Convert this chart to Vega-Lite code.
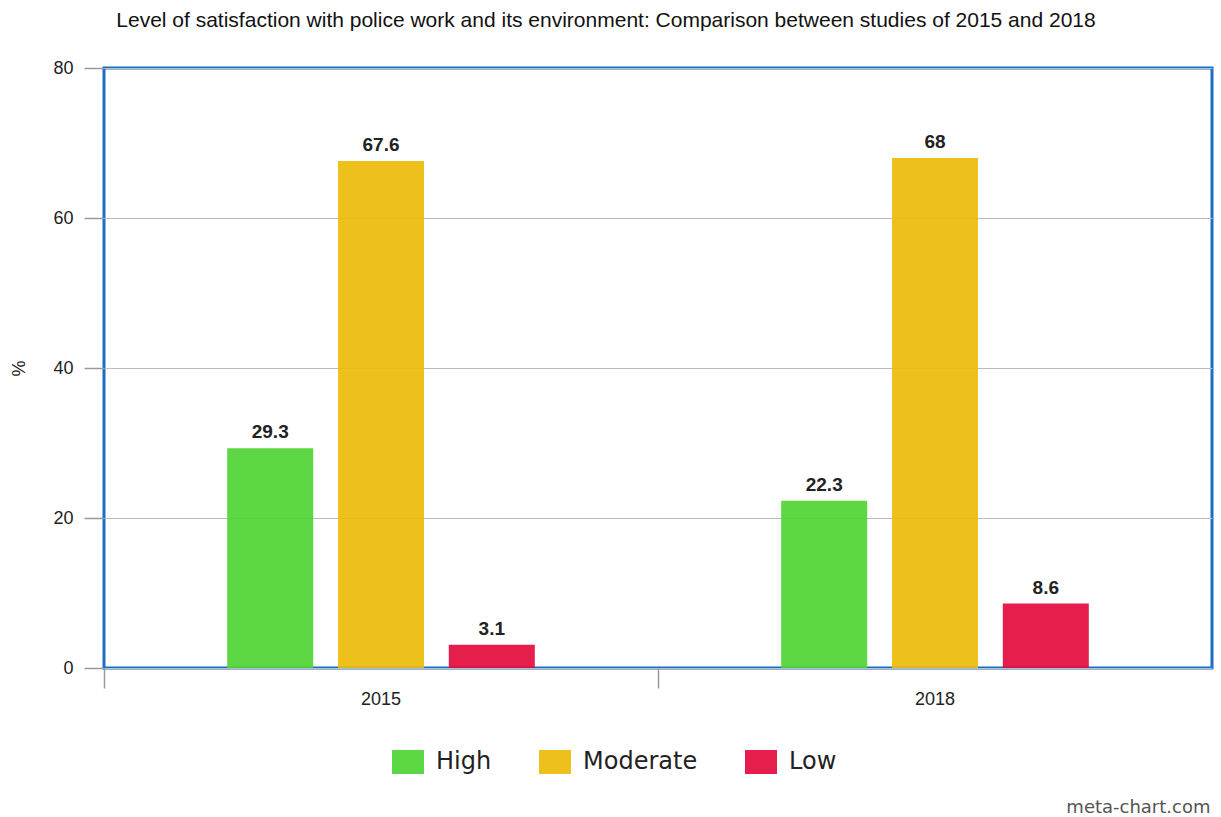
{
  "$schema": "https://vega.github.io/schema/vega-lite/v6.json",
  "autosize": {"type": "none"},
  "width": 1108,
  "height": 600,
  "padding": {"left": 104, "top": 68, "right": 9, "bottom": 149},
  "background": "white",
  "title": {
    "text": "Level of satisfaction with police work and its environment: Comparison between studies of 2015 and 2018",
    "font": "Liberation Sans",
    "fontSize": 21,
    "fontWeight": "normal",
    "color": "#111",
    "anchor": "middle",
    "dx": -52,
    "offset": 28
  },
  "config": {
    "view": {"stroke": "#1a6fc4", "strokeWidth": 3},
    "font": "Liberation Sans"
  },
  "data": {
    "values": [
      {"year": "2015", "level": "High", "value": 29.3},
      {"year": "2015", "level": "Moderate", "value": 67.6},
      {"year": "2015", "level": "Low", "value": 3.1},
      {"year": "2018", "level": "High", "value": 22.3},
      {"year": "2018", "level": "Moderate", "value": 68},
      {"year": "2018", "level": "Low", "value": 8.6}
    ]
  },
  "encoding": {
    "x": {
      "field": "year",
      "type": "nominal",
      "scale": {"paddingInner": 0, "paddingOuter": 0},
      "axis": {
        "title": "meta-chart.com",
        "titleFont": "DejaVu Sans",
        "titleFontSize": 18,
        "titleFontWeight": "normal",
        "titleColor": "#555",
        "titleAnchor": "end",
        "titleAlign": "right",
        "titleBaseline": "alphabetic",
        "titleX": 1106,
        "titleY": 144,
        "labelAngle": 0,
        "labelFontSize": 18,
        "labelColor": "#222",
        "labelPadding": 2,
        "bandPosition": 0,
        "tickSize": 20,
        "tickColor": "#999",
        "tickWidth": 1.5,
        "domain": false
      }
    },
    "xOffset": {
      "field": "level",
      "type": "nominal",
      "sort": ["High", "Moderate", "Low"],
      "scale": {"paddingInner": 0, "paddingOuter": 1}
    },
    "y": {
      "field": "value",
      "type": "quantitative",
      "scale": {"domain": [0, 80]},
      "axis": {
        "title": "%",
        "titleFontSize": 18,
        "titleFontWeight": "normal",
        "titleColor": "#222",
        "titlePadding": 24,
        "values": [0, 20, 40, 60, 80],
        "labelFontSize": 18,
        "labelColor": "#222",
        "labelPadding": 11,
        "tickSize": 20,
        "tickColor": "#999",
        "tickWidth": 1.5,
        "gridColor": "#bbb",
        "gridWidth": 1,
        "domain": false
      }
    }
  },
  "layer": [
    {
      "mark": {"type": "bar", "opacity": 0.92, "width": 86},
      "encoding": {
        "color": {
          "field": "level",
          "type": "nominal",
          "sort": ["High", "Moderate", "Low"],
          "scale": {"domain": ["High", "Moderate", "Low"], "range": ["#4fd433", "#ecbb08", "#e30b3c"]},
          "legend": {
            "title": null,
            "orient": "none",
            "direction": "horizontal",
            "legendX": 288,
            "legendY": 678,
            "symbolType": "M-1,-0.75H1V0.75H-1Z",
            "symbolSize": 1024,
            "symbolStrokeWidth": 0,
            "symbolOpacity": 0.92,
            "labelFont": "DejaVu Sans",
            "labelFontSize": 24,
            "labelColor": "#222",
            "labelOffset": 12,
            "columnPadding": 47
          }
        }
      }
    },
    {
      "mark": {"type": "text", "baseline": "alphabetic", "dy": -10, "fontSize": 19, "fontWeight": "bold", "color": "#222"},
      "encoding": {
        "text": {"field": "value", "type": "quantitative"}
      }
    }
  ]
}
